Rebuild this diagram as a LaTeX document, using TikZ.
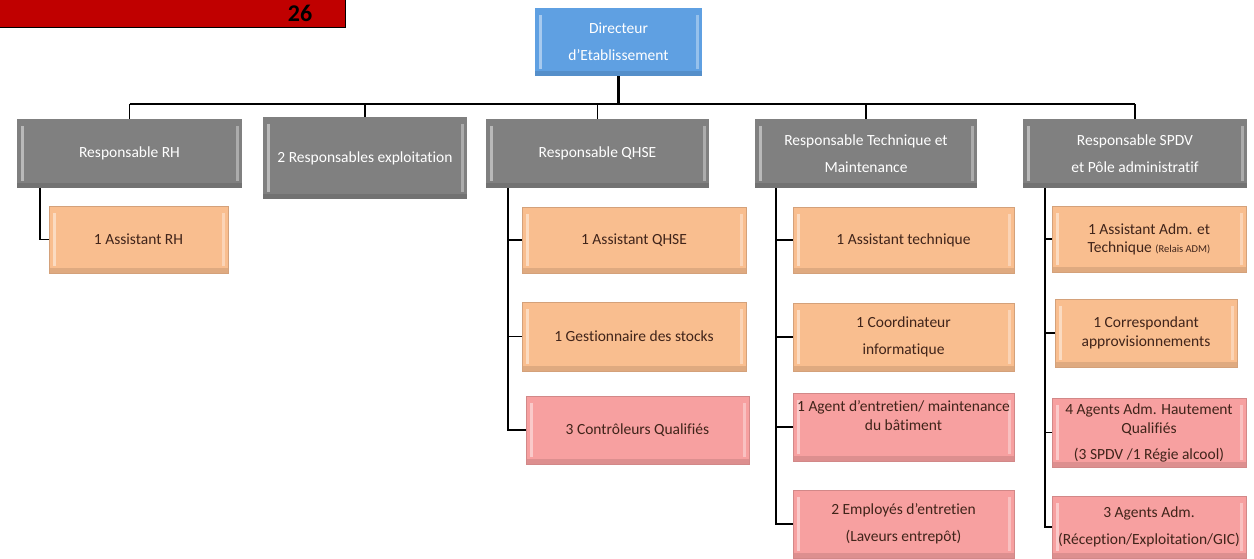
\documentclass[tikz,border=0pt]{standalone}
\usepackage{fontspec}
\setmainfont[Ligatures=NoCommon]{Carlito}
\begin{document}
\begin{tikzpicture}[x=1pt,y=-1pt,
  bevel/.style={path picture={
    \fill[white,opacity=0.45] ([xshift=4pt,yshift=-7pt]path picture bounding box.north west) rectangle ([xshift=7pt,yshift=7pt]path picture bounding box.south west);
    \fill[white,opacity=0.35] ([xshift=-6pt,yshift=-7pt]path picture bounding box.north east) rectangle ([xshift=-3pt,yshift=7pt]path picture bounding box.south east);
    \fill[black,opacity=0.10] ([yshift=5pt]path picture bounding box.south west) rectangle (path picture bounding box.south east);
  }},
  box/.style={rectangle, inner sep=0pt, align=center, bevel, font=\fontsize{15.5}{27}\selectfont},
  graybox/.style={box, fill=boxgray, text=white},
  bluebox/.style={box, fill=boxblue, text=white},
  orangebox/.style={box, fill=boxorange, draw=boxorange!85!black, line width=0.6pt, text=txtbrown},
  pinkbox/.style={box, fill=boxpink, draw=boxpink!85!black, line width=0.6pt, text=txtbrown},
  conn/.style={draw=black, line width=1.6pt},
]
\definecolor{boxgray}{HTML}{808080}
\definecolor{boxblue}{HTML}{5FA0E2}
\definecolor{boxorange}{HTML}{F9BE8F}
\definecolor{boxpink}{HTML}{F7A0A0}
\definecolor{txtbrown}{HTML}{40241A}
\definecolor{barred}{HTML}{C00000}

\useasboundingbox (0,0) rectangle (1254,558);

% red header bar
\fill[barred] (0,0) rectangle (345,27);
\draw[black, line width=1pt] (0,27) -- (345,27) -- (345,0);
\node[font=\fontsize{24}{24}\selectfont\bfseries, text=black] (pagenum) at (300,13) {26};

% top
\node[bluebox, minimum width=167, minimum height=68] (dir) at (618.5,42) {Directeur\\d’Etablissement};

% level 1
\node[graybox, minimum width=225, minimum height=69] (rh) at (129.5,153.5) {Responsable RH};
\node[graybox, minimum width=204, minimum height=82] (expl) at (365,158) {2 Responsables exploitation};
\node[graybox, minimum width=223, minimum height=69] (qhse) at (597.5,153.5) {Responsable QHSE};
\node[graybox, minimum width=222, minimum height=69] (tech) at (866,153.5) {Responsable Technique et\\Maintenance};
\node[graybox, minimum width=224, minimum height=69] (spdv) at (1135,153.5) {Responsable SPDV\\et Pôle administratif};

% RH child
\node[orangebox, minimum width=179, minimum height=67] (arh) at (138.5,239.5) {1 Assistant RH};

% QHSE children
\node[orangebox, minimum width=224, minimum height=66] (q1) at (634,240) {1 Assistant QHSE};
\node[orangebox, minimum width=224, minimum height=69] (q2) at (634,336.5) {1 Gestionnaire des stocks};
\node[pinkbox, minimum width=223, minimum height=68] (q3) at (637.5,430) {3 Contrôleurs Qualifiés};

% Tech children
\node[orangebox, minimum width=221, minimum height=66] (t1) at (903.5,240) {1 Assistant technique};
\node[orangebox, minimum width=221, minimum height=68] (t2) at (903.5,337) {1 Coordinateur\\informatique};
\node[pinkbox, minimum width=221, minimum height=68, font=\fontsize{15.5}{19}\selectfont] (t3) at (903.5,427) {1 Agent d’entretien/ maintenance\\du bâtiment\\[4pt]};
\node[pinkbox, minimum width=221, minimum height=68] (t4) at (903.5,524) {2 Employés d’entretien\\(Laveurs entrepôt)};

% SPDV children
\node[orangebox, minimum width=194, minimum height=66, font=\fontsize{15.5}{18}\selectfont] (s1) at (1149,239) {1 Assistant Adm. et\\Technique {\fontsize{10.5}{10}\selectfont (Relais ADM)}};
\node[orangebox, minimum width=182, minimum height=68, font=\fontsize{15.5}{19}\selectfont] (s2) at (1146,333) {1 Correspondant\\approvisionnements};
\node[pinkbox, minimum width=194, minimum height=69, font=\fontsize{15.5}{19}\selectfont] (s3) at (1149,432.5) {4 Agents Adm. Hautement\\Qualifiés\\[7pt](3 SPDV /1 Régie alcool)};
\node[pinkbox, minimum width=194, minimum height=62] (s4) at (1149,527) {3 Agents Adm.\\(Réception/Exploitation/GIC)};

% connectors
\coordinate (bus) at (0,104);
\draw[conn, line width=2.4pt] (dir.south) -- (dir.south |- bus);
\draw[conn] (rh.north |- bus) -- (spdv.north |- bus);
\foreach \n in {rh,expl,qhse,tech,spdv}{
  \draw[conn] (\n.north) -- (\n.north |- bus);
}

\coordinate (rhv) at (40,0);
\draw[conn] (rhv |- rh.south) |- (arh.west);

\coordinate (qv) at (508,0);
\draw[conn] (qv |- qhse.south) |- (q3.west);
\draw[conn] (qv |- q1.west) -- (q1.west);
\draw[conn] (qv |- q2.west) -- (q2.west);

\coordinate (tv) at (776,0);
\draw[conn] (tv |- tech.south) |- (t4.west);
\foreach \n in {t1,t2,t3}{
  \draw[conn] (tv |- \n.west) -- (\n.west);
}

\coordinate (sv) at (1045,0);
\draw[conn] (sv |- spdv.south) |- (s4.west);
\foreach \n in {s1,s2,s3}{
  \draw[conn] (sv |- \n.west) -- (\n.west);
}
\end{tikzpicture}
\end{document}
